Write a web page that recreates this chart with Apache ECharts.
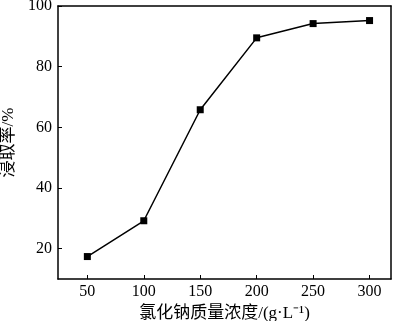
<!DOCTYPE html>
<html>
<head>
<meta charset="utf-8">
<script src="https://cdn.jsdelivr.net/npm/echarts@6/dist/echarts.min.js"></script>
<style>
html,body{margin:0;padding:0;background:#fff;}
#chart{width:400px;height:321px;}
</style>
</head>
<body>
<div id="chart"></div>
<script>
// NaCl concentration (g/L) vs leaching rate (%)
const concentrations=[50,100,150,200,250,300];
const leachRates=[17.4,29.2,65.8,89.5,94.2,95.2];
const xTicks=[50,100,150,200,250,300];
const yTicks=[20,40,60,80,100];

const serif='"Liberation Serif","Times New Roman","Noto Sans CJK SC",serif';

const chart=echarts.init(document.getElementById("chart"));

chart.setOption({
    animation:false,
    grid:{left:58,right:9,top:6,bottom:42,outerBoundsMode:"none",containLabel:false},
    xAxis:[
        {
            type:"value",
            min:24,
            max:319,
            name:"氯化钠质量浓度/(g·L⁻¹)",
            nameLocation:"middle",
            nameGap:21,
            nameTextStyle:{color:"#000",fontSize:17,fontFamily:serif},
            axisLine:{lineStyle:{color:"#000",width:1.5}},
            axisTick:{inside:true,length:4,lineStyle:{color:"#000",width:1},customValues:xTicks},
            axisLabel:{color:"#000",fontSize:16,fontFamily:serif,margin:5,customValues:xTicks},
            splitLine:{show:false}
        },
        {
            type:"value",
            position:"top",
            min:24,
            max:319,
            axisLine:{show:true,lineStyle:{color:"#000",width:1.5}},
            axisTick:{show:false},
            axisLabel:{show:false},
            splitLine:{show:false}
        }
    ],
    yAxis:[
        {
            type:"value",
            min:10,
            max:100,
            name:"浸取率/%",
            nameLocation:"middle",
            nameGap:35,
            nameTextStyle:{color:"#000",fontSize:17,fontFamily:serif},
            axisLine:{show:true,lineStyle:{color:"#000",width:1.5}},
            axisTick:{inside:true,length:4,lineStyle:{color:"#000",width:1},customValues:yTicks},
            axisLabel:{color:"#000",fontSize:16,fontFamily:serif,margin:6,customValues:yTicks},
            splitLine:{show:false}
        },
        {
            type:"value",
            position:"right",
            min:10,
            max:100,
            axisLine:{show:true,lineStyle:{color:"#000",width:1.5}},
            axisTick:{show:false},
            axisLabel:{show:false},
            splitLine:{show:false}
        }
    ],
    series:[
        {
            type:"line",
            data:concentrations.map((c,i)=>[c,leachRates[i]]),
            symbol:"rect",
            symbolSize:7,
            lineStyle:{color:"#000",width:1.5},
            itemStyle:{color:"#000"}
        }
    ]
});
</script>
</body>
</html>
